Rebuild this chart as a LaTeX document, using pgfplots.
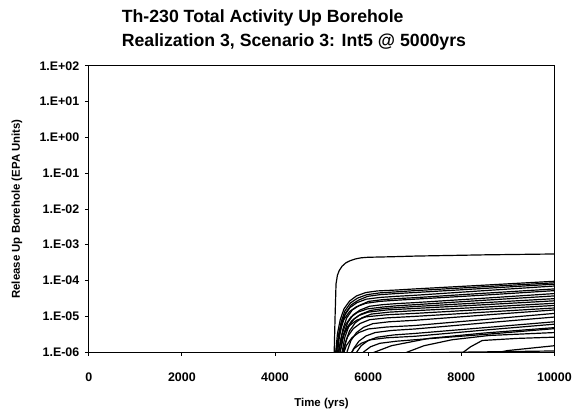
\documentclass[border=0pt]{standalone}
\usepackage{fontspec}
\setmainfont{Liberation Sans}
\usepackage{pgfplots}
\pgfplotsset{compat=1.18}
\begin{document}
\begin{tikzpicture}
\begin{axis}[
  at={(0,0)}, anchor=south west,
  scale only axis, width=467bp, height=287bp,
  xmin=0, xmax=10000, ymode=log, ymin=1e-6, ymax=1e2,
  xtick={0,2000,4000,6000,8000,10000},
  xticklabels={0,2000,4000,6000,8000,10000},
  ytick={1e-6,1e-5,1e-4,1e-3,1e-2,1e-1,1e0,1e1,1e2},
  yticklabels={1.E-06,1.E-05,1.E-04,1.E-03,1.E-02,1.E-01,1.E+00,1.E+01,1.E+02},
  yminorticks=false,
  tick align=outside, major tick length=4bp,
  xtick pos=bottom, ytick pos=left,
  tick style={black, line width=0.8pt},
  axis line style={black, line width=1pt},
  ticklabel style={font=\fontsize{12.5}{14}\selectfont\bfseries},
  xticklabel style={yshift=-13bp},
  yticklabel style={xshift=-2bp},
  scaled x ticks=false,
  xlabel={Time (yrs)},
  ylabel={Release Up Borehole (EPA Units)},
  xlabel style={at={(axis description cs:0.5,-0.181)}, anchor=center, font=\fontsize{11.5}{13}\selectfont\bfseries},
  ylabel style={at={(axis description cs:-0.154,0.5)}, anchor=center, rotate=0, font=\fontsize{11.5}{13}\selectfont\bfseries},
  title={Th-230 Total Activity Up Borehole\\Realization 3, Scenario 3: Int5 @ 5000yrs},
  title style={at={(axis description cs:0,1)}, anchor=south west, xshift=33bp, yshift=10bp, align=left, inner sep=0pt, font=\fontsize{17.8}{23.5}\selectfont\bfseries},
  cycle list={{black, solid, mark=none}},
  every axis plot/.append style={line width=1.2pt, line join=round},
  clip=true,
]
% top curve
\addplot coordinates {(5270,9e-7)(5290,1e-5)(5310,8e-5)(5340,1.4e-4)(5380,1.9e-4)(5440,2.5e-4)(5520,3.1e-4)(5620,3.6e-4)(5730,4.0e-4)(5850,4.3e-4)(6000,4.45e-4)(6500,4.6e-4)(7000,4.8e-4)(8500,5.2e-4)(10000,5.5e-4)};
% bundle
\addplot coordinates {(5300,9e-7)(5340,3.2e-6)(5400,8e-6)(5480,1.6e-5)(5600,2.65e-5)(5750,3.7e-5)(5950,4.6e-5)(6200,5.1e-5)(6600,5.4e-5)(7000,5.8e-5)(8500,7.4e-5)(10000,9.5e-5)};
\addplot coordinates {(5320,9e-7)(5360,2.8e-6)(5420,7e-6)(5500,1.4e-5)(5620,2.35e-5)(5770,3.2e-5)(5970,4.0e-5)(6250,4.5e-5)(6600,4.8e-5)(7000,5.2e-5)(8500,6.7e-5)(10000,8.6e-5)};
\addplot coordinates {(5340,9e-7)(5380,2.5e-6)(5440,6.3e-6)(5520,1.26e-5)(5640,2.1e-5)(5790,2.8e-5)(5990,3.6e-5)(6250,4.0e-5)(6600,4.3e-5)(7000,4.6e-5)(8500,6.0e-5)(10000,7.9e-5)};
\addplot coordinates {(5310,9e-7)(5350,2.1e-6)(5410,5.3e-6)(5490,1.05e-5)(5610,1.75e-5)(5760,2.4e-5)(5960,3.0e-5)(6250,3.35e-5)(6600,3.6e-5)(7000,3.85e-5)(8500,5.2e-5)(10000,7.0e-5)};
\addplot coordinates {(5360,9e-7)(5400,1.8e-6)(5460,4.5e-6)(5540,9e-6)(5660,1.5e-5)(5810,2.0e-5)(6010,2.6e-5)(6300,2.9e-5)(6600,3.1e-5)(7000,3.3e-5)(8500,4.4e-5)(10000,5.8e-5)};
\addplot coordinates {(5300,9e-7)(5340,1.6e-6)(5400,4e-6)(5480,8.1e-6)(5600,1.35e-5)(5750,1.85e-5)(5950,2.3e-5)(6250,2.6e-5)(6600,2.8e-5)(7000,3.0e-5)(8500,3.9e-5)(10000,5.2e-5)};
\addplot coordinates {(5380,9e-7)(5420,1.3e-6)(5480,3.3e-6)(5560,6.6e-6)(5680,1.1e-5)(5830,1.5e-5)(6030,1.9e-5)(6300,2.1e-5)(6600,2.25e-5)(7000,2.4e-5)(8500,3.2e-5)(10000,4.3e-5)};
\addplot coordinates {(5330,9e-7)(5370,1.1e-6)(5430,2.9e-6)(5510,5.7e-6)(5630,9.5e-6)(5780,1.3e-5)(5980,1.6e-5)(6300,1.8e-5)(6600,1.95e-5)(7000,2.1e-5)(8500,2.8e-5)(10000,3.7e-5)};
\addplot coordinates {(5400,9e-7)(5440,1.0e-6)(5500,2.6e-6)(5580,5.1e-6)(5700,8.5e-6)(5850,1.15e-5)(6050,1.45e-5)(6350,1.65e-5)(7000,1.87e-5)(8500,2.4e-5)(10000,3.1e-5)};
\addplot coordinates {(5350,6e-7)(5390,9e-7)(5450,2.3e-6)(5530,4.5e-6)(5650,7.5e-6)(5800,1.05e-5)(6000,1.3e-5)(6400,1.5e-5)(7000,1.65e-5)(8500,2.1e-5)(10000,2.7e-5)};
\addplot coordinates {(5420,5e-7)(5460,8e-7)(5520,2e-6)(5600,3.9e-6)(5720,6.5e-6)(5870,9.1e-6)(6070,1.15e-5)(6450,1.3e-5)(7000,1.43e-5)(8500,1.8e-5)(10000,2.3e-5)};
\addplot coordinates {(5300,4e-7)(5340,7e-7)(5400,1.65e-6)(5480,3.3e-6)(5600,5.5e-6)(5750,7.7e-6)(5950,9.6e-6)(6400,1.1e-5)(7000,1.2e-5)(8500,1.55e-5)(10000,2.0e-5)};
\addplot coordinates {(5380,3e-7)(5420,5.4e-7)(5480,1.35e-6)(5560,2.7e-6)(5680,4.5e-6)(5830,6.3e-6)(6030,8.0e-6)(6400,9e-6)(7000,9.9e-6)(8500,1.3e-5)(10000,1.7e-5)};
\addplot coordinates {(5450,2e-7)(5490,4e-7)(5550,1.05e-6)(5630,2.1e-6)(5750,3.5e-6)(5900,4.9e-6)(6100,6.2e-6)(6450,7e-6)(7000,7.7e-6)(8500,1.08e-5)(10000,1.5e-5)};
\addplot coordinates {(5350,1e-7)(5390,3e-7)(5450,7.5e-7)(5530,1.5e-6)(5650,2.5e-6)(5800,3.5e-6)(6000,4.4e-6)(6400,5e-6)(7000,5.5e-6)(8500,8.1e-6)(10000,1.2e-5)};
\addplot coordinates {(5500,1e-7)(5540,2.4e-7)(5600,6e-7)(5680,1.2e-6)(5800,2e-6)(5950,2.8e-6)(6150,3.5e-6)(6500,4e-6)(7000,4.4e-6)(8500,6.5e-6)(10000,9.5e-6)};
\addplot coordinates {(5650,4e-7)(5730,9e-7)(5850,1.5e-6)(6000,2.1e-6)(6200,2.6e-6)(6550,3e-6)(7000,3.3e-6)(8500,4.8e-6)(10000,7e-6)};
\addplot coordinates {(5500,4e-7)(5580,7.5e-7)(5700,1.25e-6)(5850,1.75e-6)(6050,2.2e-6)(6400,2.5e-6)(7000,2.75e-6)(8500,4.1e-6)(10000,6e-6)};
\addplot coordinates {(5700,4e-7)(5780,6e-7)(5900,1e-6)(6050,1.4e-6)(6250,1.75e-6)(6600,2e-6)(7000,2.2e-6)(8500,3.1e-6)(10000,4.5e-6)};
% late, diagonal
\addplot coordinates {(5950,8e-7)(6500,1.5e-6)(7300,2.4e-6)(8500,3.4e-6)(10000,4.8e-6)};
\addplot coordinates {(6650,8e-7)(7200,1.5e-6)(7800,2.2e-6)(8600,2.9e-6)(10000,3.5e-6)};
\addplot coordinates {(7950,8e-7)(8200,1.4e-6)(8450,2.1e-6)(9200,2.4e-6)(10000,2.6e-6)};
\addplot coordinates {(8450,8e-7)(9000,1.1e-6)(10000,1.5e-6)};
\addplot coordinates {(5700,8e-7)(7000,9.5e-7)(10000,1.07e-6)};
\end{axis}
\path[use as bounding box] (-89bp,-59bp) rectangle (486bp,353bp);
\end{tikzpicture}
\end{document}
